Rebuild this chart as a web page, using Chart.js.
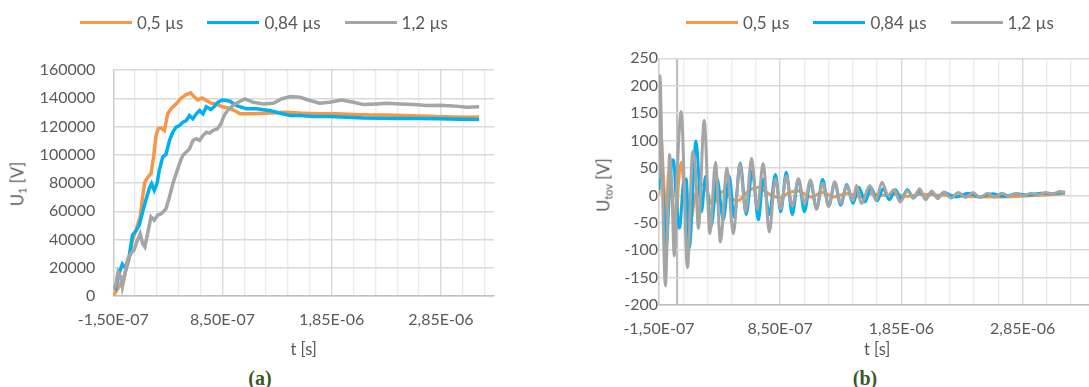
<!DOCTYPE html>
<html><head><meta charset="utf-8">
<script src="https://cdn.jsdelivr.net/npm/chart.js@4.4.1/dist/chart.umd.min.js"></script>
<style>
html,body{margin:0;padding:0;width:1089px;height:387px;overflow:hidden;background:#fff;font-family:Lato,"Open Sans",sans-serif;}
#ca{position:absolute;left:0;top:0;}
#cb{position:absolute;left:545px;top:0;}
.legend{position:absolute;top:11px;height:22px;width:600px;display:flex;justify-content:center;align-items:center;gap:24px;font-size:17px;color:#595959;}
.item{display:flex;align-items:center;white-space:nowrap;}
.swatch{width:52px;height:3px;margin-right:5px;}
.ytitle{position:absolute;transform:translate(-50%,-50%) rotate(-90deg);font-size:16.5px;color:#595959;white-space:nowrap;line-height:18px;}
.ytitle sub{font-size:11px;vertical-align:-3px;}
.cap{position:absolute;font-family:"Liberation Serif","DejaVu Serif",serif;font-weight:bold;font-size:20px;line-height:20px;color:#3a5a28;transform:translateX(-50%);}
</style></head>
<body>
<canvas id="ca" width="528" height="360"></canvas>
<canvas id="cb" width="560" height="360"></canvas>
<div id="legendA" class="legend" style="left:-36px"></div>
<div id="legendB" class="legend" style="left:570px"></div>
<div class="ytitle" style="left:20px;top:184px">U<sub>1</sub> [V]</div>
<div class="ytitle" style="left:606px;top:185px">U<sub>tov</sub> [V]</div>
<div class="cap" style="left:260px;top:368px">(a)</div>
<div class="cap" style="left:865px;top:368px">(b)</div>
<script>
// ---------- shared ----------
const seriesLabels = ['0,5 µs', '0,84 µs', '1,2 µs'];
const seriesColors = ['#F79646', '#00B0F0', '#A5A5A5'];

// x axis gridline positions (s) and labelled ticks
const xGridTicks = [-1.5e-7, 5e-8, 2.5e-7, 4.5e-7, 6.5e-7, 8.5e-7, 1.05e-6, 1.25e-6, 1.45e-6, 1.65e-6,
                    1.85e-6, 2.05e-6, 2.25e-6, 2.45e-6, 2.65e-6, 2.85e-6, 3.05e-6, 3.25e-6];
const xMajorTicks = [-1.5e-7, 8.5e-7, 1.85e-6, 2.85e-6];
const xMajorLabels = ['-1,50E-07', '8,50E-07', '1,85E-06', '2,85E-06'];
const xAxisLineB = 0; // vertical axis line drawn at t = 0 in chart (b)

// ---------- chart (a): U1 [V] vs t [µs] ----------
const yTicksA = [0, 20000, 40000, 60000, 80000, 100000, 120000, 140000, 160000];

const tA_orange = [-0.150,-0.098,-0.052,-0.005,0.025,0.062,0.096,0.118,0.139,0.164,0.195,0.219,0.241,0.262,0.287,
  0.318,0.348,0.385,0.425,0.472,0.518,0.558,0.588,0.625,0.662,0.702,0.748,0.795,0.841,0.902,0.96,1.01,1.13,1.28,1.43,
  1.59,1.74,1.89,2.05,2.20,2.35,2.50,2.66,2.81,2.96,3.10,3.20];
const uA_orange = [0,6600,13600,26600,39500,47800,56000,70000,80700,83800,86600,98400,113600,118400,119000,
  117200,129000,133200,136000,140200,142600,143800,141200,138800,140200,138400,136500,136000,134100,133200,131300,129000,129000,129600,130000,
  129400,129000,129000,128500,128200,128200,127800,127500,127000,126800,126600,126800];

const tA_blue = [-0.150,-0.128,-0.098,-0.067,-0.036,-0.005,0.025,0.056,0.087,0.118,0.148,0.179,0.201,0.225,0.250,
  0.271,0.302,0.333,0.364,0.395,0.425,0.456,0.487,0.518,0.548,0.579,0.610,0.640,0.671,0.702,0.742,0.773,0.810,0.847,0.887,
  0.918,0.98,1.07,1.16,1.28,1.38,1.47,1.56,1.68,1.83,1.99,2.14,2.29,2.45,2.66,2.84,3.03,3.20];
const uA_blue = [7000,5400,16000,22600,19500,27800,43000,46000,50000,59500,67800,76000,79500,74800,79500,
  89000,98400,100200,110000,116000,119500,120700,123000,124200,127800,125400,129000,131300,129000,134000,132000,134000,137200,138800,138400,
  137900,134800,132500,132500,131300,129400,127800,127800,127000,127000,126600,126100,125900,125600,125600,125400,125200,124900];

const tA_gray = [-0.150,-0.128,-0.107,-0.082,-0.067,-0.045,-0.021,0.010,0.040,0.071,0.096,0.118,0.139,0.164,0.195,
  0.225,0.256,0.293,0.333,0.364,0.395,0.425,0.456,0.487,0.518,0.548,0.579,0.610,0.640,0.671,0.702,0.733,0.763,0.804,0.835,
  0.865,0.896,0.933,0.964,1.055,1.13,1.22,1.315,1.39,1.47,1.56,1.65,1.74,1.83,1.94,2.05,2.14,2.26,2.35,2.48,
  2.60,2.72,2.84,2.96,3.09,3.20];
const uA_gray = [4200,7800,17000,13600,6600,14800,25400,30000,32500,39500,44200,37200,34800,44200,56000,
  53600,57200,58400,61900,70100,79500,86600,93700,99500,101900,104200,110100,111300,110100,113600,116000,115300,117200,118400,121900,
  127800,131300,134100,136000,139500,137200,136000,136500,139500,141200,140700,138400,136500,137200,138800,137200,135500,136000,136500,136000,
  135500,134800,135000,134600,133600,134000];

// ---------- chart (b): Utov [V] vs t [µs] ----------
const yTicksB = [-200, -150, -100, -50, 0, 50, 100, 150, 200, 250];

const tB_orange = [-0.15,-0.145,-0.138,-0.128,-0.11,-0.09,-0.07,-0.05,-0.03,-0.01,0.01,0.035,0.06,0.09,0.12,0.15,0.18,0.21,0.25,0.28,
  0.32,0.36,0.40,0.45,0.50,0.55,0.60,0.67,0.72,0.78,0.85,0.92,1.0,1.1,1.2,1.3,1.4,1.5,1.6,1.7,1.8,1.9,2.0,2.2,2.4,2.6,2.8,3.0,3.2];
const vB_orange = [0,110,125,100,20,-40,45,30,-30,-65,20,60,0,-65,-40,0,15,20,5,-15,
  -10,5,8,-5,-10,0,10,15,8,0,-5,5,8,-3,5,-3,4,-2,3,0,2,-2,2,0,-2,-3,-2,0,3];

const tB_blue = [-0.15,-0.14,-0.13,-0.11,-0.09,-0.07,-0.05,-0.03,-0.01,0.02,0.05,0.075,0.10,0.155,0.20,0.235,0.28,0.33,0.38,0.43,
  0.47,0.52,0.57,0.62,0.67,0.71,0.76,0.81,0.855,0.90,0.95,1.00,1.05,1.10,1.15,1.20,1.25,1.30,1.35,1.40,
  1.45,1.50,1.55,1.60,1.65,1.70,1.75,1.80,1.85,1.90,1.95,2.00,2.05,2.10,2.15,2.20,2.30,2.40,2.50,2.60,2.70,2.80,2.90,3.00,3.10,3.20];
const vB_blue = [10,105,60,-20,-95,-20,50,65,0,-60,20,30,-96,99,-30,35,-57,30,-45,35,
  -40,59,-35,45,-45,30,-35,38,-30,42,-35,30,-30,25,-25,29,-20,22,-18,20,
  -15,15,-12,14,-10,12,-8,10,-6,10,-5,8,-6,6,-4,5,-3,4,-3,3,-2,3,0,4,3,6];

const tB_gray = [-0.15,-0.143,-0.137,-0.125,-0.097,-0.08,-0.062,-0.045,-0.024,0.0,0.033,0.085,0.128,0.15,0.175,0.223,0.27,0.316,0.357,0.41,
  0.463,0.518,0.565,0.614,0.66,0.71,0.76,0.81,0.855,0.90,0.95,1.00,1.05,1.10,1.15,1.20,1.25,1.30,1.35,1.40,
  1.45,1.48,1.52,1.59,1.64,1.69,1.74,1.79,1.84,1.90,1.95,2.00,2.05,2.10,2.15,2.20,2.26,2.32,2.38,2.44,
  2.50,2.56,2.62,2.68,2.74,2.80,2.86,2.92,2.98,3.04,3.10,3.16,3.20];
const vB_gray = [30,218,195,60,-165,-60,75,20,-110,40,153,-132,80,50,-60,137,-70,60,-85,50,
  -70,58,-30,67,-25,58,-67,30,-25,35,-20,30,-15,28,-25,22,-20,25,-15,18,
  -10,18,-15,18,-9,24,0,10,-12,8,-5,12,-8,8,-6,6,-5,5,-4,5,
  -4,4,-3,4,-2,4,-1,4,1,5,3,7,5];

// ---------- helpers ----------
const TXT = '#595959';
Chart.defaults.font.family = 'Lato, "Open Sans", sans-serif';
Chart.defaults.font.size = 16;
Chart.defaults.color = TXT;
Chart.defaults.animation = false;

function pts(ts, vs) { return ts.map((t, i) => ({ x: t * 1e-6, y: vs[i] })); }
function near(a, b) { return Math.abs(a - b) < 1e-12; }
function majorIndex(v) { return xMajorTicks.findIndex(m => near(m, v)); }

function buildDatasets(series, tension, width) {
  return series.map((s, i) => ({
    label: seriesLabels[i], data: pts(s[0], s[1]),
    borderColor: seriesColors[i], backgroundColor: seriesColors[i],
    borderWidth: width, pointRadius: 0, fill: false,
    tension: tension, cubicInterpolationMode: tension ? 'monotone' : 'default',
    order: 3 - i
  }));
}

function makeLegend(el, datasets) {
  el.innerHTML = '';
  datasets.forEach(d => {
    const it = document.createElement('div'); it.className = 'item';
    const sw = document.createElement('span'); sw.className = 'swatch'; sw.style.background = d.borderColor;
    const tx = document.createElement('span'); tx.textContent = d.label;
    it.appendChild(sw); it.appendChild(tx); el.appendChild(it);
  });
}

function makeChart(id, datasets, cfg) {
  const gridTicks = cfg.extraLine !== undefined ? xGridTicks.concat([cfg.extraLine]).sort((a, b) => a - b) : xGridTicks;
  return new Chart(document.getElementById(id), {
    type: 'line',
    data: { datasets },
    options: {
      responsive: false, animation: false, parsing: false, normalized: true,
      layout: { padding: { top: cfg.top, left: 0, right: cfg.right, bottom: 0 } },
      plugins: { legend: { display: false }, tooltip: { enabled: false } },
      scales: {
        x: {
          type: 'linear', min: -1.5e-7, max: cfg.xMax,
          afterBuildTicks: s => { s.ticks = gridTicks.map(v => ({ value: v })); },
          afterFit: s => { s.height = cfg.xHeight; },
          ticks: { autoSkip: false, maxRotation: 0, minRotation: 0, padding: 14, color: TXT,
                   callback: v => { const k = majorIndex(v); return k >= 0 ? xMajorLabels[k] : ''; } },
          grid: {
            drawTicks: false,
            color: c => (cfg.extraLine !== undefined && near(c.tick.value, cfg.extraLine)) ? '#bfbfbf'
                        : (majorIndex(c.tick.value) >= 0 ? '#d9d9d9' : '#ececec'),
            lineWidth: c => (cfg.extraLine !== undefined && near(c.tick.value, cfg.extraLine)) ? 2.2 : 1.4
          },
          border: { display: true, color: '#bfbfbf', width: 1.4 },
          title: { display: true, text: 't [s]', color: TXT, padding: 0, font: { size: 16.5 } }
        },
        y: {
          type: 'linear', min: cfg.yTicks[0], max: cfg.yTicks[cfg.yTicks.length - 1],
          afterBuildTicks: s => { s.ticks = cfg.yTicks.map(v => ({ value: v })); },
          afterFit: s => { s.width = cfg.yWidth; },
          ticks: { padding: cfg.yPad, color: TXT, callback: v => String(v) },
          grid: { drawTicks: false, color: '#d9d9d9', lineWidth: 1.4 },
          border: { display: true, color: '#d0d0d0', width: 1.4 }
        }
      }
    }
  });
}

// ---------- build ----------
const dsA = buildDatasets([[tA_orange, uA_orange], [tA_blue, uA_blue], [tA_gray, uA_gray]], 0, 3.5);
const dsB = buildDatasets([[tB_orange, vB_orange], [tB_blue, vB_blue], [tB_gray, vB_gray]], 0.4, 3);

makeChart('ca', dsA, { top: 70, right: 34, xMax: 3.336e-6, xHeight: 64, yWidth: 113.3, yPad: 18, yTicks: yTicksA });
makeChart('cb', dsB, { top: 58.3, right: 9.7, xMax: 3.45e-6, xHeight: 55, yWidth: 114, yPad: 1, yTicks: yTicksB, extraLine: xAxisLineB });

makeLegend(document.getElementById('legendA'), dsA);
makeLegend(document.getElementById('legendB'), dsB);
</script>
</body></html>
